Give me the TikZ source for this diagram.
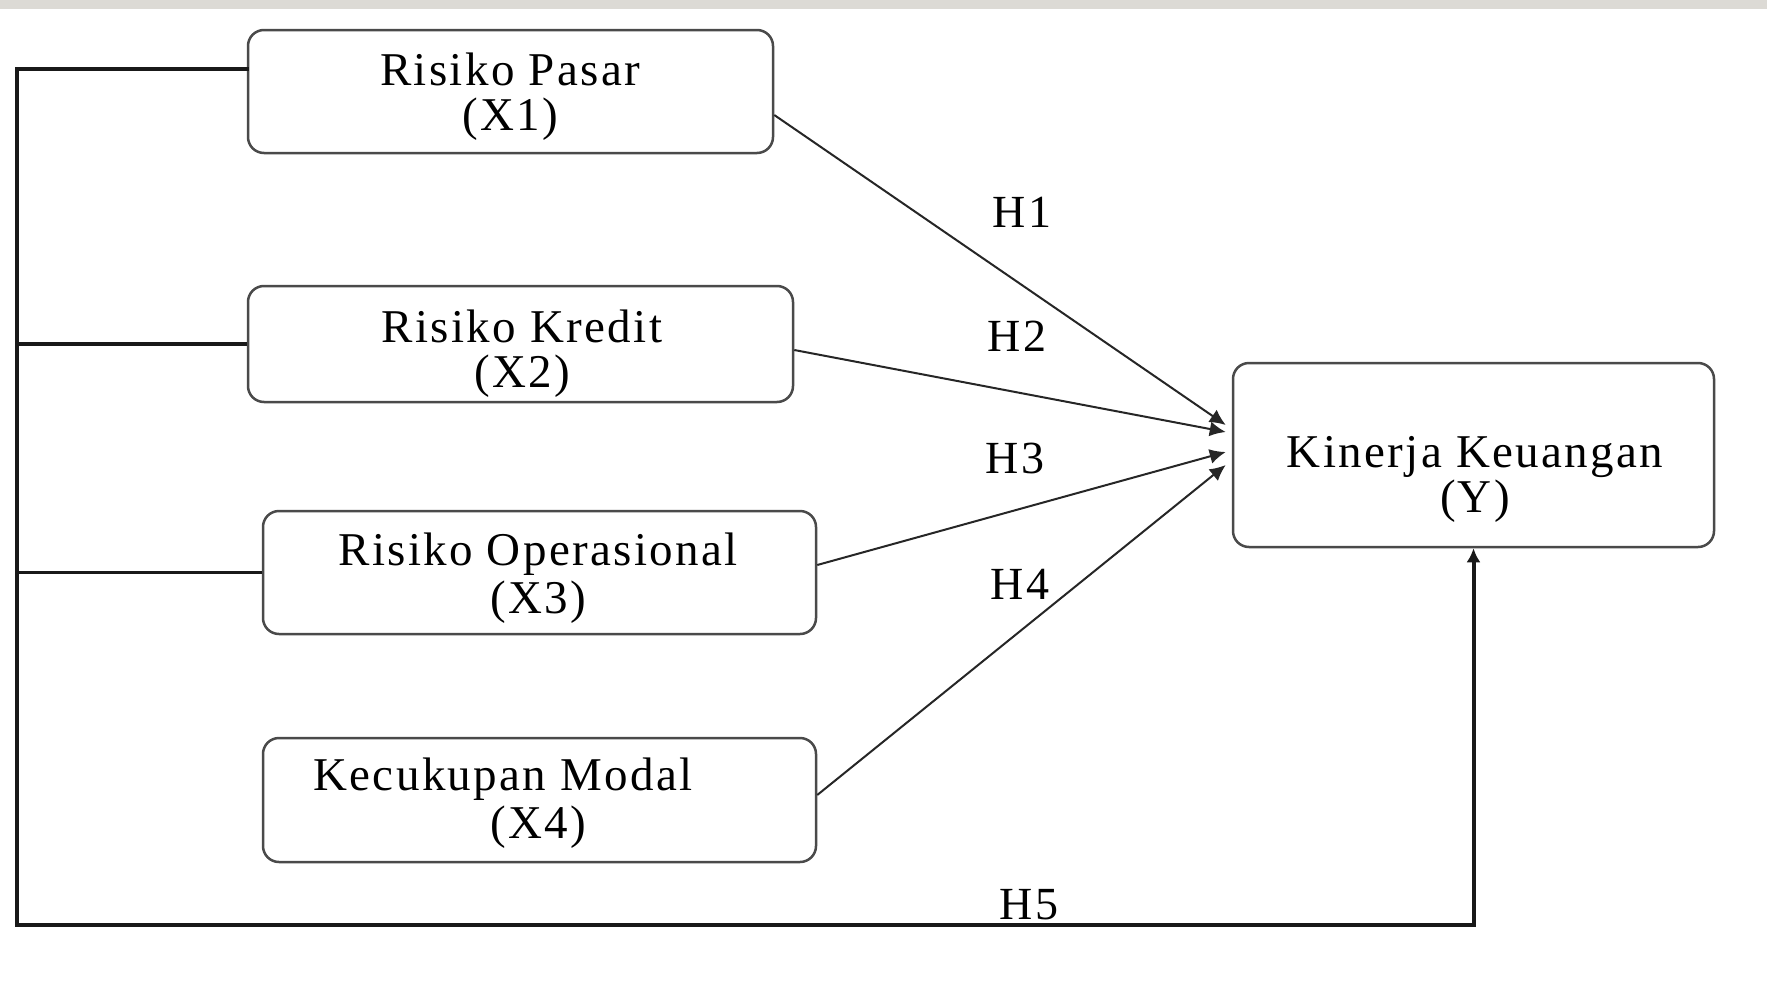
\documentclass[tikz,border=0pt]{standalone}
\usepackage{fontspec}
\setmainfont{Liberation Serif}[LetterSpace=5]
\usetikzlibrary{arrows.meta,calc}
\definecolor{bandgray}{HTML}{DCDAD5}
\definecolor{boxgray}{HTML}{4A4A4A}
\begin{document}
\begin{tikzpicture}[x=1pt,y=-1pt,
  box/.style={draw=boxgray, line width=2.5pt, rounded corners=16pt, inner sep=0pt},
  lbl/.style={font=\fontsize{47}{45}\selectfont, inner sep=0pt, anchor=base},
  hyp/.style={font=\fontsize{46}{46}\selectfont, inner sep=0pt},
  link/.style={line width=2pt, draw=black!85, -{Latex[length=16pt,width=15pt]}},
  frame/.style={line width=3.5pt, draw=black!90}]
\useasboundingbox (0,0) rectangle (1767,985);
\fill[bandgray] (0,0) rectangle (1767,9);

% boxes
\node[box, minimum width=525pt, minimum height=123pt] (x1) at (510.5,91.5) {};
\node[box, minimum width=545pt, minimum height=116pt] (x2) at (520.5,344) {};
\node[box, minimum width=553pt, minimum height=123pt] (x3) at (539.5,572.5) {};
\node[box, minimum width=553pt, minimum height=124pt] (x4) at (539.5,800) {};
\node[box, minimum width=481pt, minimum height=184pt] (y) at (1473.5,455) {};

% texts
\node[lbl] (t1a) at (510,85) {Risiko Pasar};
\node[lbl] (t1b) at (510,130) {(X1)};
\node[lbl] (t2a) at (522,342) {Risiko Kredit};
\node[lbl] (t2b) at (522,387) {(X2)};
\node[lbl] (t3a) at (538,565) {Risiko Operasional};
\node[lbl] (t3b) at (538,613) {(X3)};
\node[lbl] (t4a) at (503,790) {Kecukupan Modal};
\node[lbl] (t4b) at (538,838) {(X4)};
\node[lbl] (tya) at (1475,467) {Kinerja Keuangan};
\node[lbl] (tyb) at (1475,512) {(Y)};

% hypothesis labels
\node[hyp] (h1) at (1022,212) {H1};
\node[hyp] (h2) at (1017,336) {H2};
\node[hyp] (h3) at (1015,458) {H3};
\node[hyp] (h4) at (1020,584) {H4};
\node[hyp] (h5) at (1029,905) {H5};

% arrow ends
\coordinate (s1) at ($(x1.east)+(0,23.5)$);
\coordinate (s2) at ($(x2.east)+(0,6)$);
\coordinate (s3) at ($(x3.east)+(0,-7.5)$);
\coordinate (s4) at ($(x4.east)+(0,-5)$);
\coordinate (e1) at ($(y.west)+(-6,-30)$);
\coordinate (e2) at ($(y.west)+(-6,-23)$);
\coordinate (e3) at ($(y.west)+(-6,-3)$);
\coordinate (e4) at ($(y.west)+(-6,10)$);

\draw[link] (s1) -- (e1);
\draw[link] (s2) -- (e2);
\draw[link] (s3) -- (e3);
\draw[link] (s4) -- (e4);

% left frame and H5
\coordinate (c1) at (17,69);
\coordinate (c2) at (17,925);
\draw[frame, line cap=rect] (x1.west |- c1) -- (c1) -- (c2);
\draw[frame] (x2.west) -- (x2.west -| c1);
\draw[frame] (x3.west) -- (x3.west -| c1);
\draw[frame, line width=4pt, -{Latex[length=14pt,width=14pt]}] (c2) -| (y.south);
\end{tikzpicture}
\end{document}
